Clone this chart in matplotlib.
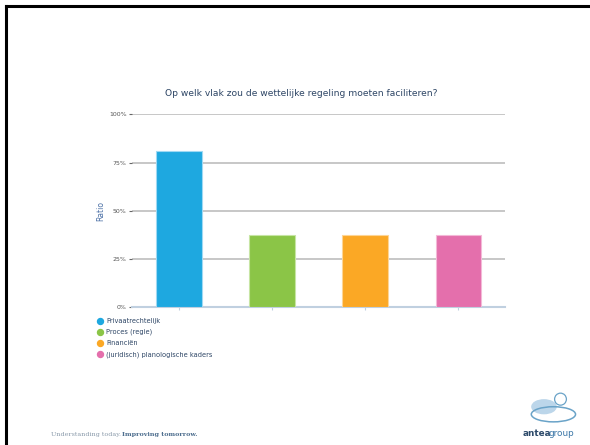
import matplotlib
matplotlib.use('Agg')
import matplotlib.pyplot as plt
from matplotlib.patches import Ellipse
from matplotlib.lines import Line2D

# data
categories = ['Privaatrechtelijk', 'Proces (regie)', 'Financiën', '(juridisch) planologische kaders']
values = [81, 37.5, 37.5, 37.5]
colors = ['#1ea8e0', '#8bc547', '#fba825', '#e46fac']
edge_colors = ['#9fd9f3', '#c7e5a4', '#fdd596', '#f3b9d7']
yticks = [0, 25, 50, 75, 100]
ytick_labels = ['0%', '25%', '50%', '75%', '100%']

title_color = '#2d4565'

fig = plt.figure(figsize=(5.9, 4.45), dpi=100)
ax = fig.add_axes([0.224, 0.309, 0.632, 0.434])

x = range(len(categories))
ax.bar(x, values, width=0.49, color=colors, edgecolor=edge_colors, linewidth=0.8, zorder=3)

ax.set_ylim(0, 100)
ax.set_xlim(-0.5, len(categories) - 0.5)
ax.set_yticks(yticks)
ax.set_yticklabels(ytick_labels, fontsize=4.5, color='#555555')
ax.set_xticks(list(x))
ax.set_xticklabels([''] * len(categories))
ax.tick_params(axis='y', length=2, width=0.8, color='#666666', pad=2)
ax.tick_params(axis='x', length=2, width=0.8, color='#c0d0e0')
ax.grid(axis='y', color='#bdbdbd', linewidth=1.2, zorder=0)
for s in ['top', 'right', 'left']:
    ax.spines[s].set_visible(False)
ax.spines['bottom'].set_color('#c0d0e0')
ax.spines['bottom'].set_linewidth(1.5)

ax.set_ylabel('Ratio', fontsize=5.5, color='#4a6fa5', labelpad=3)
fig.text(0.511, 0.789, 'Op welk vlak zou de wettelijke regeling moeten faciliteren?',
         ha='center', va='center', fontsize=6.6, color=title_color)

# legend below the chart
handles = [Line2D([], [], marker='o', linestyle='', markersize=4.3, color=c) for c in colors]
leg = fig.legend(handles, categories, loc='upper left', bbox_to_anchor=(0.158, 0.293),
                 frameon=False, fontsize=4.8, handletextpad=0.45, labelspacing=0.75,
                 borderpad=0, handlelength=1.0)
for t in leg.get_texts():
    t.set_color(title_color)

# slide frame
fig.add_artist(Line2D([0.01, 1.0], [0.986, 0.986], color='black', linewidth=2.2))
fig.add_artist(Line2D([0.01, 0.01], [0.0, 0.986], color='black', linewidth=2.2))

# footer
fig.text(0.087, 0.023, 'Understanding today.', fontsize=4.6, color='#8a9aaa', va='center',
         family='DejaVu Serif')
fig.text(0.207, 0.023, 'Improving tomorrow.', fontsize=4.6, color='#4f6f8f', va='center',
         family='DejaVu Serif', weight='bold')

fig.text(0.885, 0.025, 'antea', fontsize=6.4, color='#2d4a6a', weight='bold', ha='left', va='center')
fig.text(0.930, 0.025, 'group', fontsize=6.4, color='#3d78a8', ha='left', va='center')
fig.add_artist(Ellipse((0.922, 0.086), 0.041, 0.031, color='#bcd6ea'))
fig.add_artist(Ellipse((0.938, 0.069), 0.075, 0.034, fill=False, edgecolor='#6aa3c8', linewidth=1.1))
fig.add_artist(Ellipse((0.950, 0.103), 0.02, 0.027, fill=False, edgecolor='#6aa3c8', linewidth=0.9))

fig.savefig('out.png', dpi=100)
